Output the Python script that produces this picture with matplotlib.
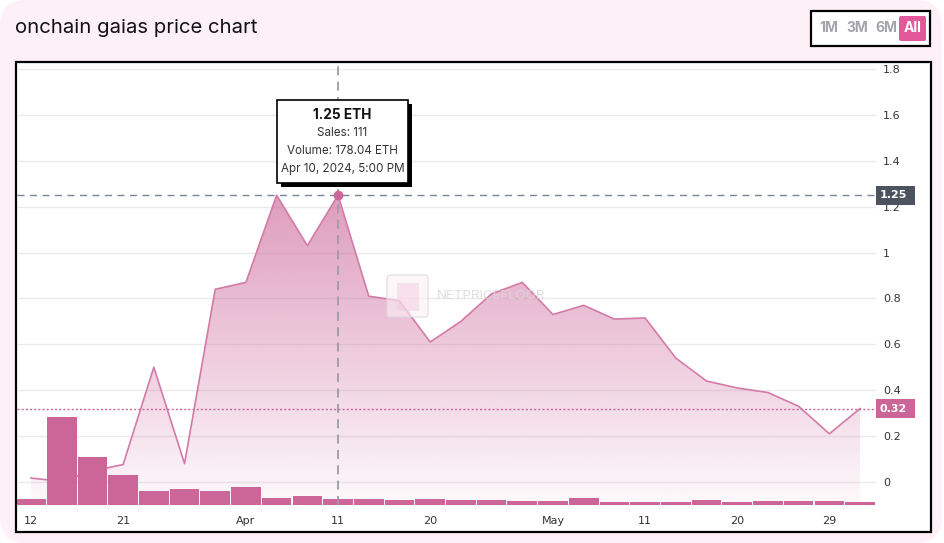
import numpy as np
import matplotlib
matplotlib.use("Agg")
import matplotlib.pyplot as plt
from matplotlib.patches import FancyBboxPatch, Rectangle
from matplotlib.colors import to_rgb

# ---------------- data ----------------
dates = ["Mar 12", "Mar 15", "Mar 18", "Mar 21", "Mar 24", "Mar 27", "Mar 30",
         "Apr 2", "Apr 5", "Apr 8", "Apr 11", "Apr 14", "Apr 17", "Apr 20",
         "Apr 23", "Apr 26", "Apr 29", "May 2", "May 5", "May 8", "May 11",
         "May 14", "May 17", "May 20", "May 23", "May 26", "May 29", "Jun 1"]
prices = [0.017, 0.003, 0.048, 0.076, 0.50, 0.08, 0.84, 0.87, 1.25, 1.03,
          1.25, 0.81, 0.79, 0.61, 0.70, 0.82, 0.87, 0.73, 0.77, 0.71,
          0.715, 0.54, 0.44, 0.41, 0.39, 0.33, 0.21, 0.32]
volumes = [180, 2610, 1420, 890, 415, 475, 415, 535, 210, 265,
           178.04, 178, 150, 178, 150, 150, 120, 120, 210, 90,
           90, 90, 150, 90, 120, 120, 120, 90]
tick_idx = [0, 3, 7, 10, 13, 17, 20, 23, 26]
tick_labels = ["12", "21", "Apr", "11", "20", "May", "11", "20", "29"]
price_ticks = [0, 0.2, 0.4, 0.6, 0.8, 1.0, 1.2, 1.4, 1.6, 1.8]
price_tick_labels = ["0", "0.2", "0.4", "0.6", "0.8", "1", "1.2", "1.4", "1.6", "1.8"]
hover_index = 10
hover_sales = 111
hover_time = "Apr 10, 2024, 5:00 PM"
title = "onchain gaias price chart"
ranges = ["1M", "3M", "6M", "All"]

PINK = "#cc6699"
LINE = "#d47aa8"
W, H = 945, 543

fig = plt.figure(figsize=(W / 100, H / 100), dpi=100)
fig.patch.set_facecolor("white")

# background (pixel coordinates)
bg = fig.add_axes([0, 0, 1, 1], zorder=-10)
bg.set_xlim(0, W); bg.set_ylim(H, 0); bg.axis("off")
bg.add_patch(FancyBboxPatch((0, 0), 942, 543, boxstyle="round,pad=0,rounding_size=26",
                            facecolor="#fdf0f7", edgecolor="none"))
bg.add_patch(Rectangle((16, 62), 915, 470, facecolor="white", edgecolor="black", lw=1.6))

# pane
L, R, T, B = 17, 876, 64, 505
ax = fig.add_axes([L / W, (H - B) / H, (R - L) / W, (B - T) / H], zorder=1)
ax.patch.set_alpha(0)
x = np.arange(len(prices))
xlim = (-0.456, 27.52)
ylim = (-0.1003, 1.8218)
ax.set_xlim(*xlim); ax.set_ylim(*ylim)
for s in ax.spines.values():
    s.set_visible(False)
ax.set_yticks(price_ticks)
ax.set_yticklabels(price_tick_labels)
ax.yaxis.grid(True, color="#ebebeb", lw=1)
ax.set_axisbelow(True)

# gradient fill under the line
poly = ax.fill_between(x, prices, ylim[0], facecolor="none", edgecolor="none")
rgb = np.array(to_rgb(PINK))
n = 256
alpha = np.linspace(0.9, 0.04, n)
grad = np.zeros((n, 1, 4))
grad[:, 0, :3] = rgb
grad[:, 0, 3] = alpha
im = ax.imshow(grad, extent=(xlim[0], xlim[1], ylim[0], ylim[1]), aspect="auto",
               origin="upper", zorder=1, interpolation="bilinear")
im.set_clip_path(poly.get_paths()[0], transform=ax.transData)
ax.plot(x, prices, color=LINE, lw=1.2, zorder=2)

# volume bars
axv = ax.twinx()
axv.set_zorder(2)
axv.patch.set_alpha(0)
axv.set_ylim(0, 13085)
axv.set_xlim(*xlim)
axv.bar(x, volumes, width=0.965, color=PINK, edgecolor="none", zorder=2)
axv.set_yticks([])
for s in axv.spines.values():
    s.set_visible(False)

ax.yaxis.tick_right()
ax.tick_params(axis="y", length=0, pad=5, labelsize=8, labelcolor="#333333")
ax.set_xticks(tick_idx)
ax.set_xticklabels(tick_labels)
ax.tick_params(axis="x", length=0, pad=8, labelsize=8, labelcolor="#333333")

# crosshair & last price line (above bars)
hp = prices[hover_index]
axv.axvline(hover_index, color="#9a9ca6", lw=1.3, dashes=(5, 3.5), zorder=5)
axv.plot(xlim, [hp, hp], transform=ax.transData, color="#758696", lw=1, dashes=(5, 4), zorder=5)
axv.plot(xlim, [prices[-1], prices[-1]], transform=ax.transData, color=PINK, lw=1,
         dashes=(1.5, 1.5), zorder=5)
axv.plot([hover_index], [hp], "o", transform=ax.transData, color=PINK, ms=6, zorder=6,
         clip_on=False)

# overlay in pixel coordinates
ov = fig.add_axes([0, 0, 1, 1], zorder=10)
ov.set_xlim(0, W); ov.set_ylim(H, 0); ov.axis("off")
ov.patch.set_alpha(0)

def ypix(v):
    return H - ax.transData.transform((0, v))[1]

FONT = "Inter"
ov.text(15, 28, title, fontsize=14.6, family=FONT, color="#111111", va="center", ha="left")

# range buttons
ov.add_patch(Rectangle((811, 11), 119, 35, facecolor="white", edgecolor="black", lw=1.6))
ov.add_patch(FancyBboxPatch((899, 16), 27, 25, boxstyle="round,pad=0,rounding_size=2",
                            facecolor="#e2589b", edgecolor="none"))
for lab, cx in zip(ranges, [829, 857, 886, 912.5]):
    ov.text(cx, 28.5, lab, fontsize=10, family=FONT, weight="bold",
            color="white" if lab == "All" else "#a3a3ad", ha="center", va="center")

# price labels on axis
for val, col in [(hp, "#4c525e"), (prices[-1], PINK)]:
    yc = ypix(val)
    ov.add_patch(Rectangle((876, yc - 9.5), 39, 19, facecolor=col, edgecolor="none"))
    ov.text(880, yc, f"{val:.2f}", fontsize=8, color="white", weight="bold",
            ha="left", va="center")

# watermark
ov.add_patch(FancyBboxPatch((387, 275), 41, 42, boxstyle="round,pad=0,rounding_size=3",
                            facecolor="#fdf0f6", edgecolor="#dcdcdc", lw=1.2, alpha=0.6))
ov.add_patch(Rectangle((397, 283), 21, 27, facecolor="#f4c6dd", edgecolor="#e0e0e0",
                       lw=0.8, alpha=0.45))
ov.text(437, 296, "NETPRICEFLOOR", fontsize=9.6, family=FONT, color="#d9d9d9",
        ha="left", va="center", alpha=0.85)

# tooltip
ov.add_patch(Rectangle((281, 104), 131, 83, facecolor="black", edgecolor="none"))
ov.add_patch(Rectangle((277, 100), 131, 83, facecolor="white", edgecolor="black", lw=1.2))
cx = 342.5
ov.text(cx, 115, f"{hp:.2f} ETH", fontsize=9.8, family=FONT, weight="bold",
        color="#111111", ha="center", va="center")
ov.text(cx, 133, f"Sales: {hover_sales}", fontsize=8.4, family=FONT, color="#333333",
        ha="center", va="center")
ov.text(cx, 151, f"Volume: {volumes[hover_index]:.2f} ETH", fontsize=8.4, family=FONT,
        color="#333333", ha="center", va="center")
ov.text(cx, 169, hover_time, fontsize=8.4, family=FONT, color="#333333",
        ha="center", va="center")

fig.savefig("out.png", dpi=100)
